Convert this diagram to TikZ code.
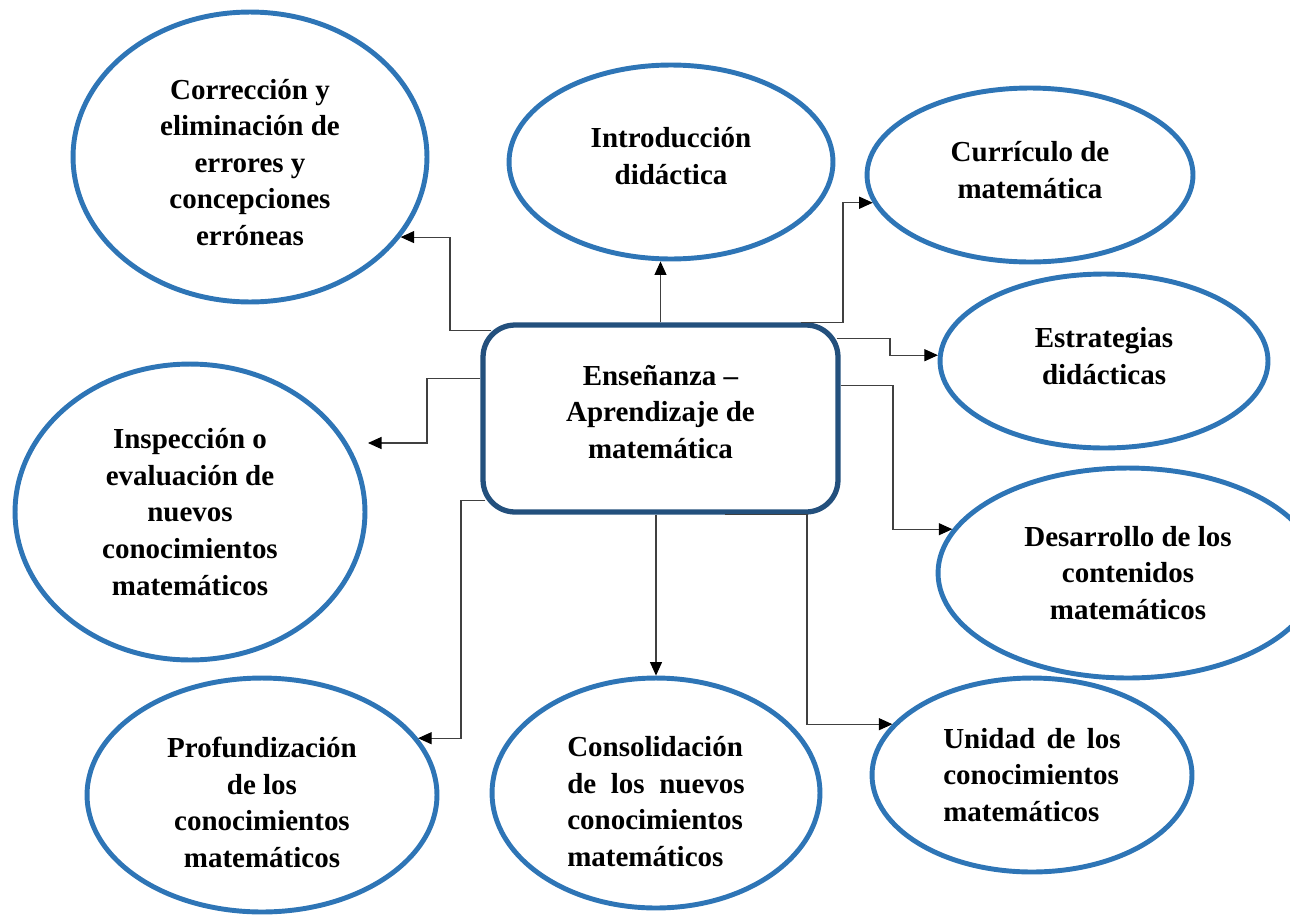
\documentclass[tikz,border=0pt]{standalone}
\usepackage{fontspec}
\setmainfont{Liberation Serif}
\usetikzlibrary{shapes.geometric,arrows.meta}

\definecolor{ideablue}{RGB}{46,117,182}
\definecolor{nucleoblue}{RGB}{35,80,125}

\tikzset{
  idea/.style={ellipse, draw=ideablue, line width=2.8pt, inner sep=0pt, align=center,
    font=\bfseries\fontsize{16.5}{20.8}\selectfont},
  nucleo/.style={rectangle, rounded corners=0.64cm, draw=nucleoblue, line width=3pt,
    minimum width=7.1cm, minimum height=3.74cm, align=center,
    font=\bfseries\fontsize{16.5}{20.8}\selectfont},
  conn/.style={draw=black!75, line width=0.6pt, -{Triangle[length=0.27cm, width=0.24cm, black]}}
}

\begin{document}
\begin{tikzpicture}[x=0.02cm, y=-0.02cm]
\useasboundingbox (0,0) rectangle (1290,916);

      \begin{scope}[every node/.style={idea}]
        \node (corr)  at (250,157) [minimum width=7.08cm, minimum height=5.8cm]
          {\rule{0pt}{17.5pt}Corrección y\\eliminación de\\errores y\\concepciones\\erróneas};
        \node (intro) at (671,162) [minimum width=6.48cm, minimum height=3.88cm, text depth=7pt]
          {Introducción\\didáctica};
        \node (curr)  at (1030,175) [minimum width=6.52cm, minimum height=3.48cm, text depth=6pt]
          {Currículo de\\matemática};
        \node (estr)  at (1104,361) [minimum width=6.56cm, minimum height=3.48cm, text depth=6pt]
          {Estrategias\\didácticas};
        \node (desa)  at (1128,573) [minimum width=7.6cm, minimum height=4.2cm]
          {Desarrollo de los\\contenidos\\matemáticos};
        \node (unid)  at (1032,775) [minimum width=6.4cm, minimum height=3.88cm,
          text width=3.55cm, align=left]
          {Unidad \hfill de \hfill los\\conocimientos\\matemáticos};
        \node (cons)  at (656,793) [minimum width=6.56cm, minimum height=4.6cm,
          text width=3.55cm, align=left]
          {\rule{0pt}{21pt}Consolidación\\de \hfill los \hfill nuevos\\conocimientos\\matemáticos};
        \node (prof)  at (262,795) [minimum width=7.0cm, minimum height=4.68cm]
          {\rule{0pt}{20pt}Profundización\\de los\\conocimientos\\matemáticos};
        \node (insp)  at (190,512) [minimum width=7.0cm, minimum height=5.92cm]
          {Inspección o\\evaluación de\\nuevos\\conocimientos\\matemáticos};
      \end{scope}

      \node[nucleo, text depth=8pt] (ens) at (660.5,418.5) {Enseñanza –\\Aprendizaje de\\matemática};

      \coordinate (inspin) at (368,443);

      \begin{scope}[every path/.style={conn}]
        \draw ([shift={(11,8)}]ens.north west) -| (450,0 |- corr.-28) -- (corr.-28);
        \draw (ens.north) -- (ens.north |- intro.south);
        \draw ([shift={(-40,0)}]ens.north east) -| (843,0 |- curr.190) -- (curr.190);
        \draw ([shift={(-4,16)}]ens.north east) -| (890,0 |- estr.178) -- (estr.178);
        \draw ([shift={(0,-33)}]ens.east) -| (893,0 |- desa.166) -- (desa.166);
        \draw ([shift={(0,-40)}]ens.west) -| (427,0 |- inspin) -- (inspin);
        \draw ([shift={(5,-14)}]ens.south west) -| (461,0 |- prof.20) -- (prof.20);
        \draw (cons.north |- ens.south) -- (cons.north);
        \draw ([shift={(-116,0)}]ens.south east) -| (807,0 |- unid.160) -- (unid.160);
      \end{scope}

\end{tikzpicture}
\end{document}
